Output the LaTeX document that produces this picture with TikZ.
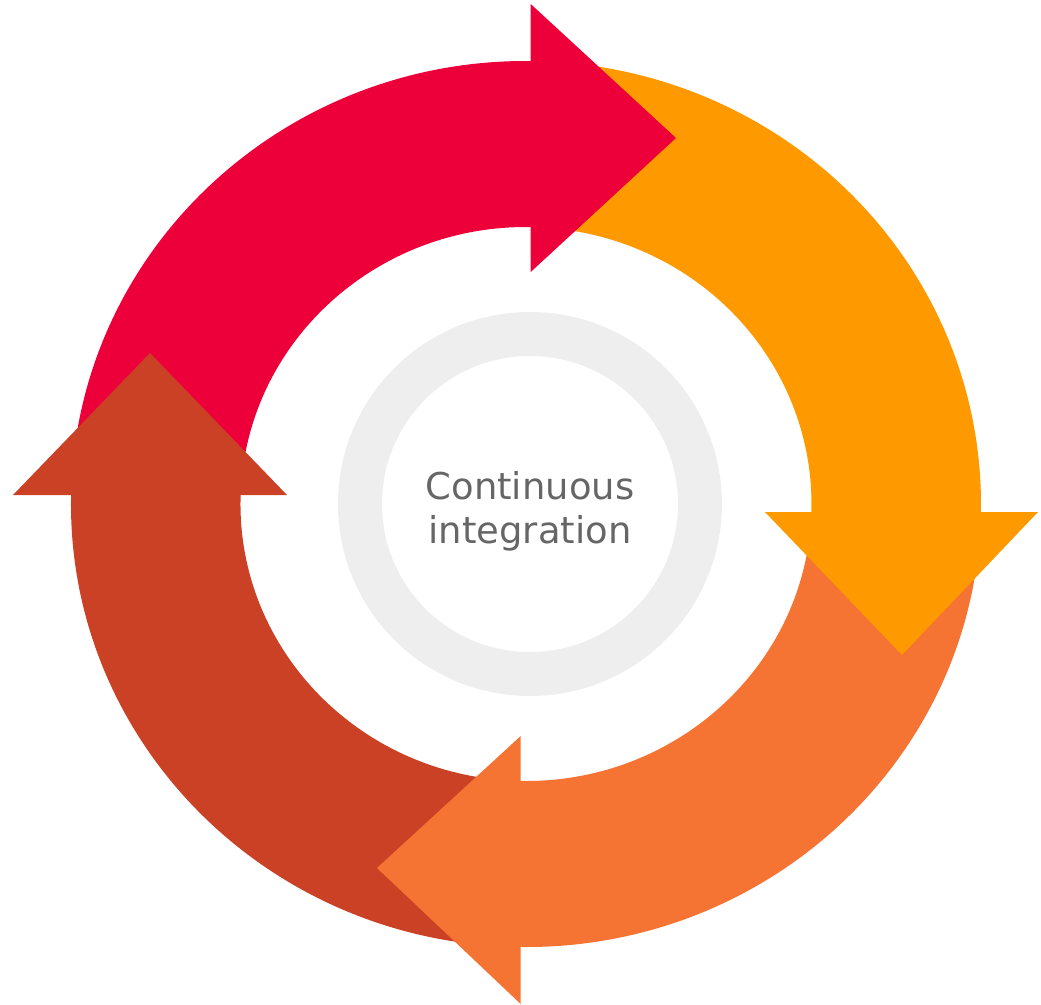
\documentclass[tikz,border=0pt]{standalone}
\usepackage{fontspec}
\setsansfont{DejaVu Sans}
\usepackage{tikz}
\definecolor{rossoci}{HTML}{ED0039}
\definecolor{arancioci}{HTML}{FE9900}
\definecolor{aranciochiaro}{HTML}{F57333}
\definecolor{mattone}{HTML}{CB4125}
\definecolor{grigioanello}{HTML}{EEEEEE}
\definecolor{grigiotesto}{HTML}{666666}
\tikzstyle{frecciarossa} = [fill=rossoci,draw=none]
\tikzstyle{frecciaarancio} = [fill=arancioci,draw=none]
\tikzstyle{frecciachiara} = [fill=aranciochiaro,draw=none]
\tikzstyle{frecciamattone} = [fill=mattone,draw=none]
\tikzstyle{anello} = [fill=grigioanello,even odd rule]
\tikzstyle{testo} = [align=center,text=grigiotesto,inner sep=0pt]

\begin{document}
\begin{tikzpicture}[x=0.01cm,y=0.01cm]
\tikzstyle{every node}=[font=\sffamily\fontsize{10.5}{12.5}\selectfont]
\useasboundingbox (-526,-501) rectangle (515,504);

% corpi delle frecce
\fill[frecciarossa] (177:455 and 443) arc[start angle=177,end angle=88,x radius=455,y radius=443] -- (88:285.5 and 277) arc[start angle=88,end angle=177,x radius=285.5,y radius=277] -- cycle;
\fill[frecciaarancio] (88:455 and 443) arc[start angle=88,end angle=-3,x radius=455,y radius=443] -- (-3:285.5 and 277) arc[start angle=-3,end angle=88,x radius=285.5,y radius=277] -- cycle;
\fill[frecciachiara] (-3:455 and 443) arc[start angle=-3,end angle=-93,x radius=455,y radius=443] -- (-93:285.5 and 277) arc[start angle=-93,end angle=-3,x radius=285.5,y radius=277] -- cycle;
\fill[frecciamattone] (267:455 and 443) arc[start angle=267,end angle=177,x radius=455,y radius=443] -- (177:285.5 and 277) arc[start angle=177,end angle=267,x radius=285.5,y radius=277] -- cycle;

% punte
\fill[frecciarossa] (4.7,500) -- (150,366) -- (4.7,232) -- cycle;
\fill[frecciaarancio] (239,-8) -- (376,-151) -- (512,-8) -- cycle;
\fill[frecciachiara] (-5.3,-232) -- (-149,-364) -- (-5.3,-500) -- cycle;
\fill[frecciamattone] (-513,9) -- (-376,151) -- (-239,9) -- cycle;

% anello centrale
\fill[anello] (4,0) circle (192) (4,0) circle (148);

\node (ci) [testo] at (4,-7.5) {Continuous\\integration};
\end{tikzpicture}
\end{document}
